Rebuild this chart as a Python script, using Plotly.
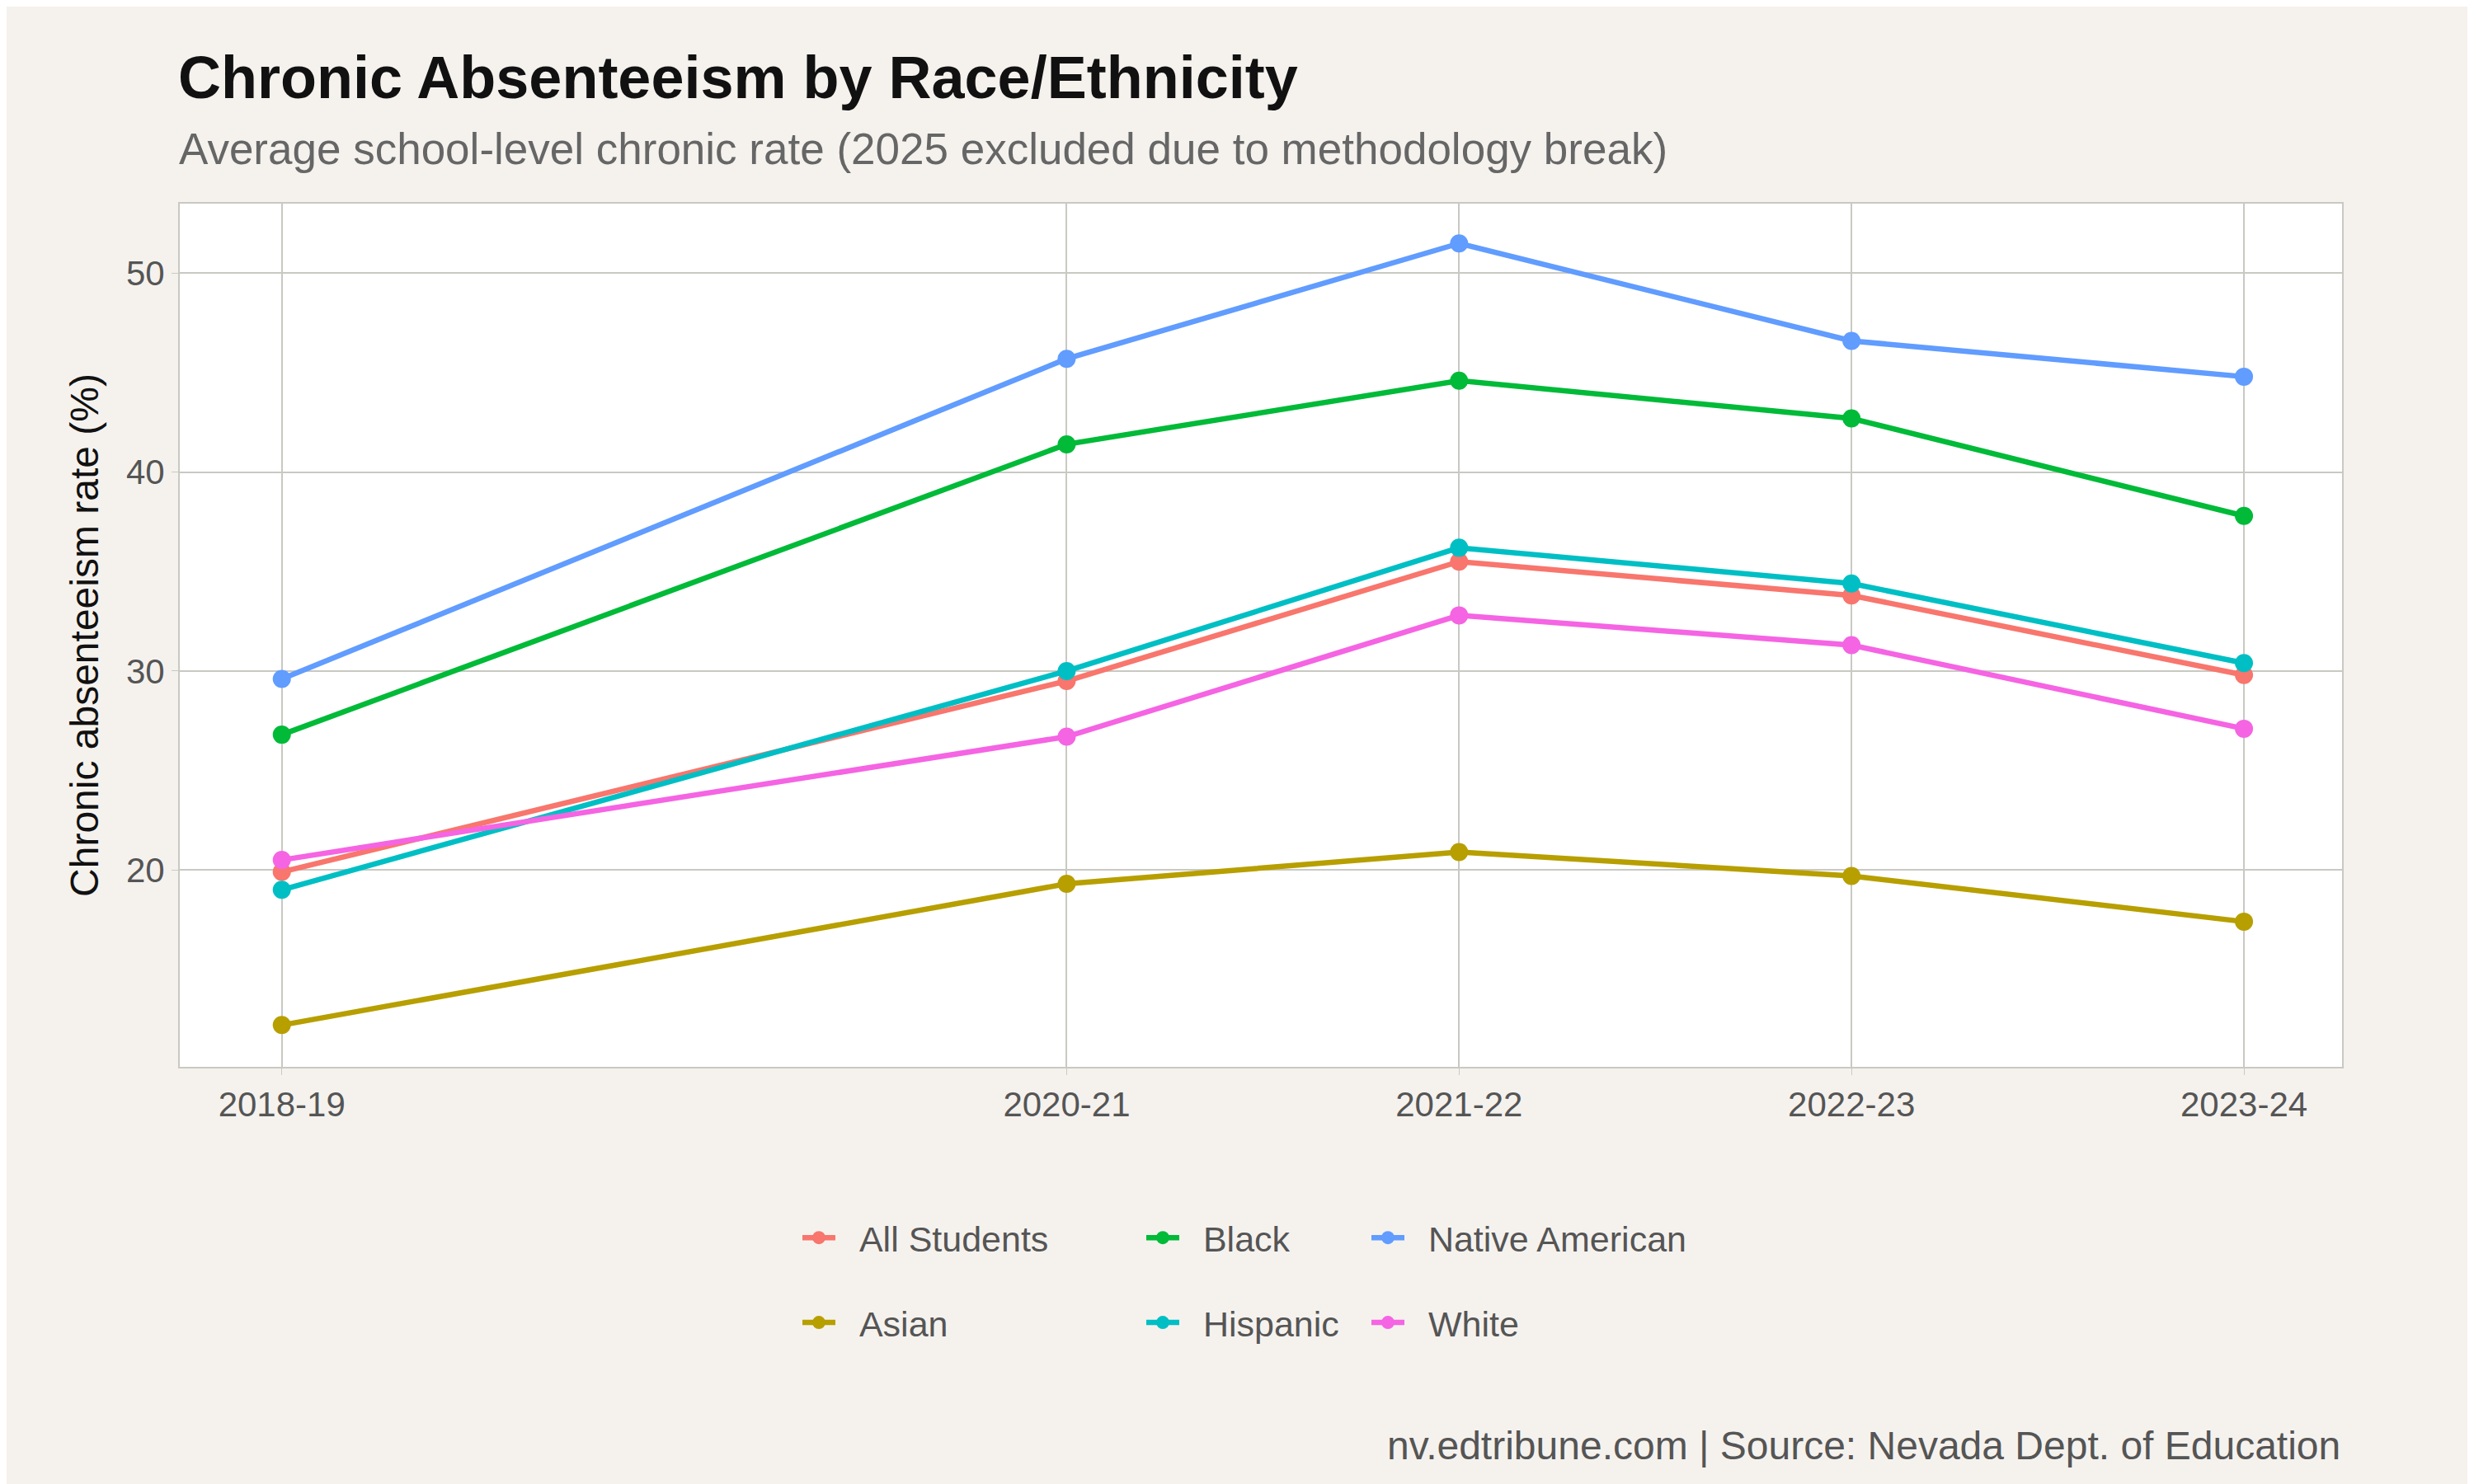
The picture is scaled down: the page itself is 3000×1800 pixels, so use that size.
import plotly.graph_objects as go

years = [2019, 2021, 2022, 2023, 2024]
year_labels = ["2018-19", "2020-21", "2021-22", "2022-23", "2023-24"]
groups = ["All Students", "Asian", "Black", "Hispanic", "Native American", "White"]
all_students = [19.9, 29.5, 35.5, 33.8, 29.8]
asian = [12.2, 19.3, 20.9, 19.7, 17.4]
black = [26.8, 41.4, 44.6, 42.7, 37.8]
hispanic = [19.0, 30.0, 36.2, 34.4, 30.4]
native = [29.6, 45.7, 51.5, 46.6, 44.8]
white = [20.5, 26.7, 32.8, 31.3, 27.1]
values = [all_students, asian, black, hispanic, native, white]
colors = ["#F8766D", "#B79F00", "#00BA38", "#00BFC4", "#619CFF", "#F564E3"]
legend_ids = ["legend", "legend", "legend2", "legend2", "legend3", "legend3"]

fig = go.Figure()
for g, v, c, lg in zip(groups, values, colors, legend_ids):
    fig.add_trace(go.Scatter(x=years, y=v, name="\u00a0\u00a0" + g, mode="lines+markers",
                             line=dict(color=c, width=6.5), marker=dict(color=c, size=22),
                             legend=lg, legendgroup=g))

font = "Liberation Sans, Arial, sans-serif"
leg = dict(orientation="v", yanchor="top", xanchor="left", y=-0.165,
           bgcolor="rgba(0,0,0,0)", font=dict(size=43, color="#555555", family=font),
           tracegroupgap=44, itemwidth=40)
fig.update_layout(
    width=3000, height=1800,
    paper_bgcolor="#F5F2EE", plot_bgcolor="#FFFFFF",
    margin=dict(l=210, r=168, t=239, b=514),
    font=dict(family=font),
    title=dict(text="<b>Chronic Absenteeism by Race/Ethnicity</b>", x=208/3000, xanchor="left",
               y=1-86/1800, yanchor="middle", font=dict(size=72, color="#111111")),
    legend=dict(leg, x=(960-210)/2622),
    legend2=dict(leg, x=(1377-210)/2622),
    legend3=dict(leg, x=(1650-210)/2622),
    xaxis=dict(tickvals=years, ticktext=year_labels, range=[2018.74, 2024.25],
               showgrid=True, gridcolor="#C9C9C3", gridwidth=2, zeroline=False,
               showline=True, linecolor="#C9C9C3", linewidth=2, mirror=True,
               tickfont=dict(size=42, color="#555555"), ticks="outside", ticklen=8, tickcolor="#C9C9C3"),
    yaxis=dict(tickvals=[20, 30, 40, 50], range=[10.1, 53.5],
               showgrid=True, gridcolor="#C9C9C3", gridwidth=2, zeroline=False,
               showline=True, linecolor="#C9C9C3", linewidth=2, mirror=True,
               tickfont=dict(size=42, color="#555555"), ticks="outside", ticklen=8, tickcolor="#C9C9C3",
               title=dict(text="Chronic absenteeism rate (%)", font=dict(size=48, color="#111111"), standoff=18)),
)
fig.add_annotation(text="Average school-level chronic rate (2025 excluded due to methodology break)",
                   xref="paper", yref="paper", x=-0.001, xanchor="left", y=(1286-172)/1047, yanchor="middle",
                   showarrow=False, font=dict(size=53, color="#666666"))
fig.add_annotation(text="nv.edtribune.com | Source: Nevada Dept. of Education",
                   xref="paper", yref="paper", x=1, xanchor="right", y=(1286-1745)/1047, yanchor="middle",
                   showarrow=False, font=dict(size=48, color="#555555"))
fig.write_html("out.html")
